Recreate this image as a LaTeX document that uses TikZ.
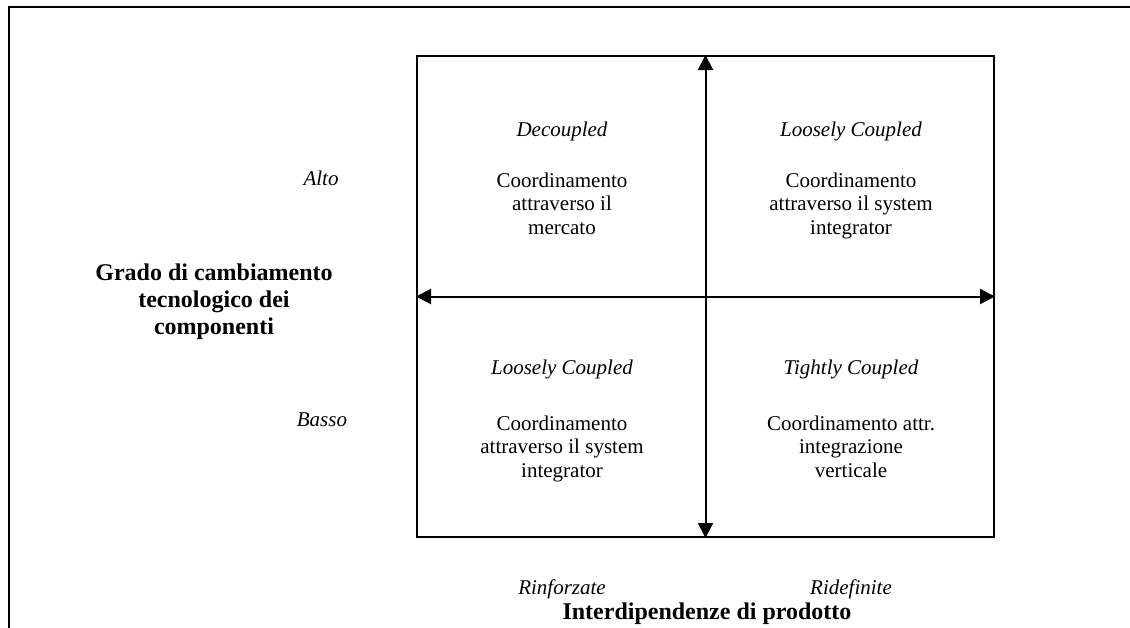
\documentclass[tikz,border=0pt]{standalone}
\usepackage{fontspec}
\setmainfont{Liberation Serif}
\usetikzlibrary{arrows.meta}
\begin{document}
\begin{tikzpicture}[x=1pt,y=-1pt,
  body/.style={inner sep=0pt,anchor=base,align=center,font=\fontsize{21}{23.5}\selectfont},
  heading/.style={body,font=\fontsize{21}{23.5}\selectfont\itshape},
  axistitle/.style={inner sep=0pt,anchor=base,align=center,font=\fontsize{24}{27}\selectfont\bfseries},
  frameline/.style={line width=2.4pt},
  axis/.style={line width=2pt,{Triangle[length=15pt,width=15pt]}-{Triangle[length=15pt,width=15pt]}}
]
\useasboundingbox (0,0) rectangle (1130,627);

% open outer frame
\coordinate (fTL) at (9,7);
\coordinate (fTR) at (1131,7);
\coordinate (fBL) at (9,628);
\draw[frameline] (fBL) -- (fTL) -- (fTR);

% quadrant square
\node[draw,line width=2pt,minimum width=577pt,minimum height=481pt,inner sep=0pt]
  (grid) at (705.5,296.5) {};

% axes
\draw[axis] (grid.south) -- (grid.north);
\draw[axis] (grid.west) -- (grid.east);

% quadrants (multi-line blocks are placed by the baseline of their last line)
\node[heading] (q1t) at (562,136) {Decoupled};
\node[body] (q1b) at (562,234) {Coordinamento\\attraverso il\\mercato};
\node[heading] (q2t) at (851,136) {Loosely Coupled};
\node[body] (q2b) at (851,234) {Coordinamento\\attraverso il system\\integrator};
\node[heading] (q3t) at (562,374) {Loosely Coupled};
\node[body] (q3b) at (562,477) {Coordinamento\\attraverso il system\\integrator};
\node[heading] (q4t) at (851,374) {Tightly Coupled};
\node[body] (q4b) at (851,477) {Coordinamento attr.\\integrazione\\verticale};

% vertical axis labels
\node[heading] (alto) at (321,185) {Alto};
\node[heading] (basso) at (322,426) {Basso};
\node[axistitle] (ytitle) at (214,334) {Grado di cambiamento\\tecnologico dei\\componenti};

% horizontal axis labels
\node[heading] (rinf) at (562,594) {Rinforzate};
\node[heading] (ridef) at (851,594) {Ridefinite};
\node[axistitle] (xtitle) at (707,619) {Interdipendenze di prodotto};
\end{tikzpicture}
\end{document}
